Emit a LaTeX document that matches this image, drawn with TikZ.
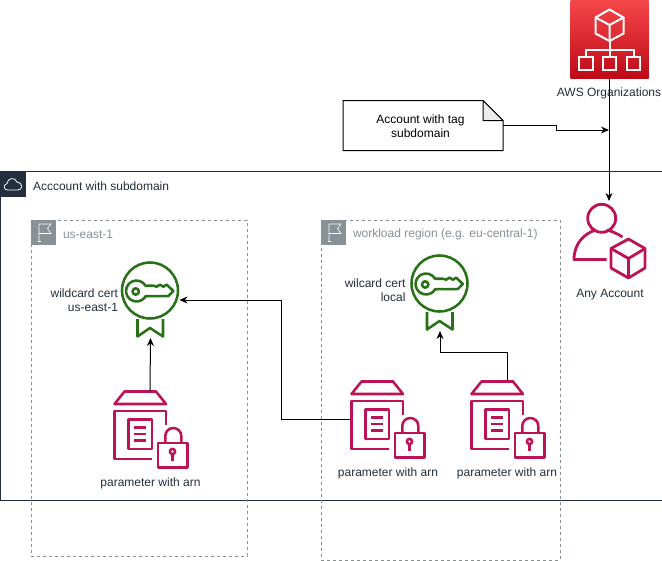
\documentclass[tikz,border=0pt]{standalone}
\usepackage{fontspec}
\setmainfont{Liberation Sans}
\usetikzlibrary{arrows.meta}
\definecolor{awsdark}{HTML}{232F3E}
\definecolor{awsgray}{HTML}{879196}
\definecolor{awspink}{HTML}{BC1356}
\definecolor{awsgreen}{HTML}{277116}
\definecolor{orgtop}{HTML}{F54749}
\definecolor{orgbot}{HTML}{BE0917}
\tikzset{
  txt/.style={font=\fontsize{9pt}{10.5pt}\selectfont, text=awsdark, inner sep=0pt, outer sep=0pt},
  blacktxt/.style={txt, text=black, align=center},
  grouptxt/.style={txt, text=awsgray, anchor=west},
  iconbox/.style={rectangle, inner sep=0pt, outer sep=0pt, minimum width=#1},
  region/.style={draw=awsgray, line width=0.75pt, dash pattern=on 2.25pt off 2.25pt},
  conn/.style={draw=black, line width=0.75pt, -{Stealth[length=6pt,width=5.2pt]}},
  paramicon/.pic={
    \begin{scope}[shift={(-150,-429.5)}, draw=awspink, line width=1.9pt, line join=round]
      \draw (114.5,404) -- (124.5,391.5) -- (156,391.5) -- (166,404) -- cycle;
      \draw (166,425) -- (166,411) -- (114.5,411) -- (114.5,459) -- (152,459);
      \draw (128.5,419.5) rectangle (152,449);
      \draw (134,427.5) -- (146,427.5) (134,434) -- (146,434) (134,440.5) -- (146,440.5);
      \draw (158,443) rectangle (187.5,467.5);
      \draw (165.3,443) -- (165.3,436) arc[start angle=180,end angle=360,radius=8] -- (181.3,443);
      \draw (172.5,451.5) circle[radius=2.6];
      \draw (172.5,454) -- (172.5,460.5);
    \end{scope}},
  certicon/.pic={
    \begin{scope}[shift={(-150.5,-300)}, draw=awsgreen, line width=1.9pt, line join=round]
      \draw (150,290.5) circle[radius=28];
      \draw (137.5,319) -- (137.5,336.5) -- (150,328) -- (163,336.5) -- (163,319);
      \draw (135.7,291.5) circle[radius=3.2];
      \draw (145.6,285.75) arc[start angle=-30,end angle=-330,radius=10.5]
        -- (168.3,296) -- (173.3,291) -- (166.7,284.6) -- (163.3,286.7) -- (160,284.6) -- (156.7,286.7) -- (153.5,285.75) -- cycle;
    \end{scope}},
  orgicon/.pic={
    \begin{scope}[shift={(-609.5,-39.5)}, draw=white, line width=1.5pt, line join=miter]
      \draw (609.5,9.5) -- (623.5,17.5) -- (623.5,33.5) -- (609.5,41) -- (595.5,33.5) -- (595.5,17.5) -- cycle;
      \draw (595.5,17.5) -- (609.5,25) -- (623.5,17.5) (609.5,25) -- (609.5,41);
      \draw (609.5,41) -- (609.5,49.5) (585.5,56.5) -- (585.5,49.5) -- (633.5,49.5) -- (633.5,56.5) (609.5,49.5) -- (609.5,56.5);
      \draw (579,56.5) rectangle (592.5,70);
      \draw (603,56.5) rectangle (616,70);
      \draw (626.5,56.5) rectangle (640,70);
    \end{scope}},
  accounticon/.pic={
    \begin{scope}[shift={(-609,-240)}, draw=awspink, line width=2.1pt, line join=round]
      \draw (601.7,218.3) circle[radius=14];
      \draw (606.5,230) .. controls (612,231) and (619,234.5) .. (622.5,237);
      \draw (596,230) .. controls (585,233) and (574,243) .. (574,259.5) -- (606.5,259.5);
      \draw (628.5,239) -- (645,248.5) -- (645,268) -- (628.5,278) -- (611,268) -- (611,248.5) -- cycle;
      \draw (611,248.5) -- (628.5,258.5) -- (645,248.5) (628.5,258.5) -- (628.5,278);
    \end{scope}},
  flagicon/.pic={
    \fill[awsgray] (0,0) rectangle (25,25);
    \draw[white, line width=0.45pt] (8,21.5) -- (8,4) -- (20,4) -- (16.5,8.5) -- (20,13.5) -- (8,13.5);
    \draw[white, line width=0.45pt] (6.5,21.5) -- (9.5,21.5);
  }
}
\begin{document}
\begin{tikzpicture}[x=0.75pt,y=-0.75pt]
\useasboundingbox (0,0) rectangle (662,561);
\fill[white] (0,0) rectangle (662,561);

% account group
\node[draw=awsdark, line width=0.75pt, rectangle, inner sep=0pt, minimum width=496.5pt, minimum height=246.75pt] (account) at (331,335.5) {};
\fill[awsdark] (0,171) rectangle (25.5,196.5);
\draw[white, line width=0.6pt, line join=round] (7.5,190) .. controls (3.5,190) and (3,184.5) .. (7,183.5) .. controls (7.5,178) and (15,176.5) .. (17,182) .. controls (22.5,182) and (23.5,190) .. (18,190) -- cycle;
\node[txt, anchor=west] (accounttxt) at (33,186) {Acccount with subdomain};

% regions
\node[region, rectangle, inner sep=0pt, minimum width=162pt, minimum height=252pt] (r1) at (139,388) {};
\node[region, rectangle, inner sep=0pt, minimum width=179.25pt, minimum height=255pt] (r2) at (440.5,390) {};
\pic at (31,220) {flagicon};
\pic at (321,220) {flagicon};
\node[grouptxt] (r1txt) at (63,234.5) {us-east-1};
\node[grouptxt] (r2txt) at (353,234.5) {workload region (e.g. eu-central-1)};

% certs
\node[iconbox=43.5pt, minimum height=57pt] (cert1) at (150.5,300) {};
\node[iconbox=43.5pt, minimum height=57pt] (cert2) at (440,293) {};
\pic at (cert1.center) {certicon};
\pic at (cert2.center) {certicon};
\node[txt, anchor=east, align=right] (c1txt) at (118,300.5) {wildcard cert\\us-east-1};
\node[txt, anchor=east, align=right] (c2txt) at (405.5,290.5) {wilcard cert\\local};

% parameters
\node[iconbox=54pt, minimum height=57.75pt] (p1) at (150,429.5) {};
\node[iconbox=54pt, minimum height=57.75pt] (p2) at (387,419.5) {};
\node[iconbox=54pt, minimum height=57.75pt] (p3) at (507,419.5) {};
\pic at (p1.center) {paramicon};
\pic at (p2.center) {paramicon};
\pic at (p3.center) {paramicon};
\node[txt] (p1txt) at (150.5,483) {parameter with arn};
\node[txt] (p2txt) at (388,473) {parameter with arn};
\node[txt] (p3txt) at (507,473) {parameter with arn};

% organizations
\node[rectangle, inner sep=0pt, outer sep=0pt, minimum width=58.5pt, minimum height=58.5pt, top color=orgtop, bottom color=orgbot] (org) at (609.5,39.5) {};
\pic at (org.center) {orgicon};
\node[txt] (orgtxt) at (609,93.5) {AWS Organizations};

% any account
\node[iconbox=54pt, minimum height=58.5pt] (any) at (609,240) {};
\pic at (any.center) {accounticon};
\node[txt] (anytxt) at (610,294.5) {Any Account};

% note
\node[rectangle, inner sep=0pt, outer sep=0pt, minimum width=120pt, minimum height=37.5pt] (note) at (423,125) {};
\draw[black, line width=0.75pt, line join=round] (343,100.5) -- (483,100.5) -- (503,120.5) -- (503,150.5) -- (343,150.5) -- cycle;
\draw[black, line width=0.75pt, line join=round, fill=black!7] (483,100.5) -- (503,120.5) -- (483,120.5) -- cycle;
\node[blacktxt] (notetxt) at (420.5,126.5) {Account with tag\\subdomain};

% connectors
\coordinate (j) at (609,130);
\coordinate (m) at (556,125);
\draw[conn] (note.east) -- (m) -- (m|-j) -- (j);
\draw[conn] (org.south-|any.north) -- (any.north);
\draw[conn] (p1.north) -- (cert1.south);
\coordinate (e2) at (281,350);
\draw[conn] (p2.west) -- (p2.west-|e2) -- (e2|-cert1.east) -- (cert1.east);
\coordinate (e3) at (470,352);
\draw[conn] (p3.north) -- (p3.north|-e3) -- (cert2.south|-e3) -- (cert2.south);
\end{tikzpicture}
\end{document}
